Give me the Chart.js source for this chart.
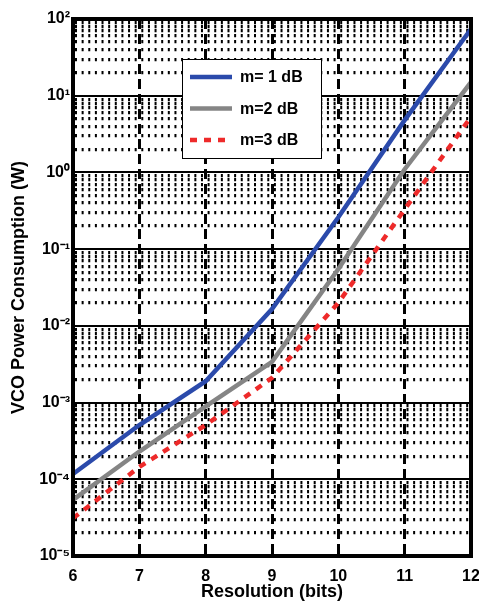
<!DOCTYPE html>
<html>
<head>
<meta charset="utf-8">
<script src="https://cdn.jsdelivr.net/npm/chart.js@4/dist/chart.umd.min.js"></script>
<style>
  html, body { margin: 0; padding: 0; background: #ffffff; }
  #wrap { width: 479px; height: 603px; }
</style>
</head>
<body>
<div id="wrap"><canvas id="c" width="479" height="603"></canvas></div>
<script>
// ---- data ----
const bits = [6, 7, 8, 9, 10, 11, 12];
const m1dB = [1.17e-4, 5.1e-4, 1.9e-3, 1.66e-2, 0.26, 4.8, 74];
const m2dB = [5.4e-5, 2.3e-4, 8.9e-4, 3.4e-3, 0.055, 1.1, 15];
const m3dB = [3.1e-5, 1.45e-4, 5.1e-4, 2.1e-3, 0.02, 0.33, 5.3];
const seriesLabels = ['m= 1 dB', 'm=2 dB', 'm=3 dB'];
const xTicks = [6, 7, 8, 9, 10, 11, 12];
const yDecades = [-5, -4, -3, -2, -1, 0, 1, 2];
const yMinorMultipliers = [2, 3, 4, 5, 6, 7, 8, 9];
const xTitle = 'Resolution (bits)';
const yTitle = 'VCO Power Consumption (W)';

const FONT = '"Liberation Sans", Arial, Helvetica, sans-serif';
const SUP = {'-': '\u207B', '0': '\u2070', '1': '\u00B9', '2': '\u00B2', '3': '\u00B3',
             '4': '\u2074', '5': '\u2075', '6': '\u2076', '7': '\u2077', '8': '\u2078', '9': '\u2079'};
function supText(n) { return String(n).split('').map(c => SUP[c]).join(''); }
function isDecade(v) {
  const l = Math.log10(v);
  return Math.abs(l - Math.round(l)) < 1e-9;
}
function toPoints(ys) { return bits.map((b, i) => ({x: b, y: ys[i]})); }

const colors = ['#2b4aab', '#858585', '#ee2a2a'];

const frame = {
  id: 'frame',
  afterDraw(chart) {
    const a = chart.chartArea, ctx = chart.ctx;
    ctx.save();
    ctx.strokeStyle = '#000';
    ctx.lineWidth = 4;
    ctx.strokeRect(a.left, a.top, a.right - a.left, a.bottom - a.top);
    ctx.restore();
  }
};

const boxLegend = {
  id: 'boxLegend',
  afterDatasetsDraw(chart) {
    const a = chart.chartArea, ctx = chart.ctx;
    const bx = a.left + 109, by = a.top + 40, bw = 139, bh = 99;
    ctx.save();
    ctx.fillStyle = '#fff';
    ctx.fillRect(bx, by, bw, bh);
    ctx.strokeStyle = '#000';
    ctx.lineWidth = 1;
    ctx.strokeRect(bx + 0.5, by + 0.5, bw, bh);
    chart.data.datasets.forEach((ds, i) => {
      const y = by + 18 + i * 31.5;
      ctx.beginPath();
      ctx.strokeStyle = ds.borderColor;
      ctx.lineWidth = ds.borderWidth;
      ctx.setLineDash(ds.borderDash || []);
      ctx.lineCap = 'butt';
      ctx.moveTo(bx + 8, y);
      ctx.lineTo(bx + 50, y);
      ctx.stroke();
      ctx.setLineDash([]);
      ctx.fillStyle = '#000';
      ctx.font = 'bold 16px ' + FONT;
      ctx.textBaseline = 'middle';
      ctx.textAlign = 'left';
      ctx.fillText(ds.label, bx + 58, y + 1);
    });
    ctx.restore();
  }
};

new Chart(document.getElementById('c'), {
  type: 'line',
  data: {
    datasets: [
      {label: seriesLabels[0], data: toPoints(m1dB), borderColor: colors[0], borderWidth: 4.5, pointRadius: 0, tension: 0, fill: false},
      {label: seriesLabels[1], data: toPoints(m2dB), borderColor: colors[1], borderWidth: 4.5, pointRadius: 0, tension: 0, fill: false},
      {label: seriesLabels[2], data: toPoints(m3dB), borderColor: colors[2], borderWidth: 4.5, borderDash: [7, 7], pointRadius: 0, tension: 0, fill: false}
    ]
  },
  options: {
    responsive: false,
    animation: false,
    devicePixelRatio: 1,
    layout: {padding: {top: 19, right: 8, left: 0, bottom: 0}},
    plugins: {legend: {display: false}, tooltip: {enabled: false}},
    scales: {
      x: {
        type: 'linear',
        min: 6, max: 12,
        afterBuildTicks: s => { s.ticks = xTicks.map(v => ({value: v})); },
        afterFit: s => { s.height = 47; s.paddingLeft = 0; s.paddingRight = 0; },
        ticks: {
          color: '#000', padding: 11, autoSkip: false, maxRotation: 0,
          font: {family: FONT, size: 16, weight: 'bold'},
          callback: v => String(v)
        },
        grid: {color: '#000', lineWidth: 3, drawTicks: false},
        border: {display: true, color: '#000', width: 4, dash: ctx => ctx.tick ? [10, 5] : []},
        title: {display: true, text: xTitle, color: '#000', padding: {top: 0, bottom: 0},
                font: {family: FONT, size: 18, weight: 'bold', lineHeight: 1.2}}
      },
      y: {
        type: 'logarithmic',
        min: 1e-5, max: 100,
        afterBuildTicks: s => {
          const t = [];
          yDecades.forEach(d => {
            t.push({value: Math.pow(10, d)});
            if (d < 2) yMinorMultipliers.forEach(m => t.push({value: m * Math.pow(10, d)}));
          });
          s.ticks = t;
        },
        afterFit: s => { s.width = 73; s.paddingTop = 0; s.paddingBottom = 0; },
        ticks: {
          color: '#000', padding: 3, autoSkip: false,
          font: {family: FONT, size: 16, weight: 'bold'},
          callback: v => isDecade(v) ? '10' + supText(Math.round(Math.log10(v))) : ''
        },
        grid: {
          color: '#000',
          lineWidth: ctx => (ctx.tick && isDecade(ctx.tick.value)) ? 2 : 3.2,
          drawTicks: false
        },
        border: {
          display: true, color: '#000', width: 4,
          dash: ctx => (ctx.tick && !isDecade(ctx.tick.value)) ? [2, 4.63] : [],
          dashOffset: 0
        },
        title: {display: true, text: yTitle, color: '#000', padding: {top: 8, bottom: 0},
                font: {family: FONT, size: 18, weight: 'bold', lineHeight: 1.2}}
      }
    }
  },
  plugins: [boxLegend, frame]
});
</script>
</body>
</html>
